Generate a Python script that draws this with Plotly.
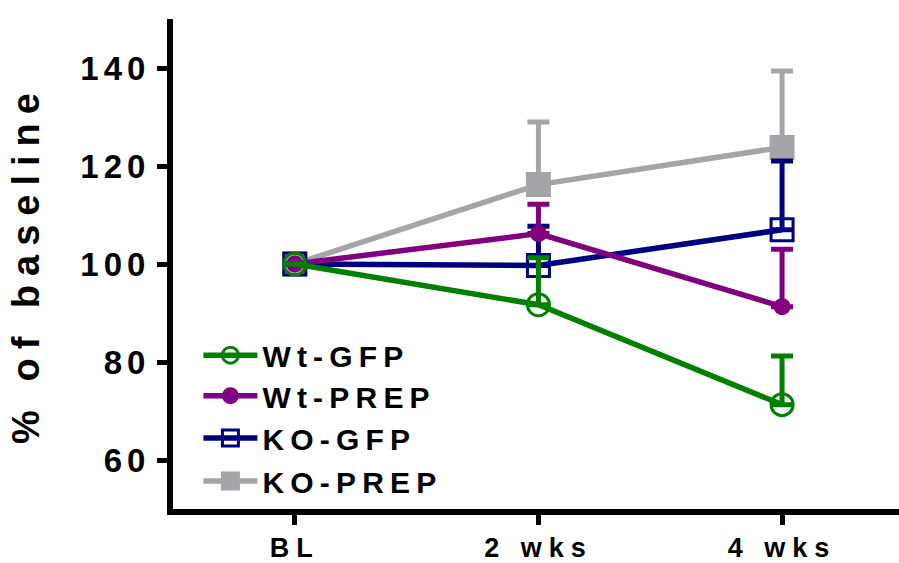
import plotly.graph_objects as go

# Time points and group summaries (% of baseline, mean and upper SEM)
timepoints = ["BL", "2 wks", "4 wks"]

wt_gfp_mean = [100, 91.7, 71.3]
wt_gfp_err = [0, 9.6, 9.9]

wt_prep_mean = [100, 106.2, 91.3]
wt_prep_err = [0, 6.0, 11.7]

ko_gfp_mean = [100, 99.7, 107.0]
ko_gfp_err = [0, 8.0, 14.0]

ko_prep_mean = [100, 116.2, 123.8]
ko_prep_err = [0, 12.8, 15.6]

y_ticks = [60, 80, 100, 120, 140]

FONT = "Liberation Sans"

# (name, mean, err, color, symbol, marker size, legend id, legend y) -- drawn bottom to top
groups = [
    ("KO-PREP", ko_prep_mean, ko_prep_err, "#A5A5A9", "square", 22, "legend4", 0.057),
    ("KO-GFP", ko_gfp_mean, ko_gfp_err, "#000080", "square-open", 22, "legend3", 0.145),
    ("Wt-PREP", wt_prep_mean, wt_prep_err, "#800080", "circle", 14, "legend2", 0.231),
    ("Wt-GFP", wt_gfp_mean, wt_gfp_err, "#008000", "circle-open", 22, "legend", 0.314),
]

fig = go.Figure()
x_pos = list(range(len(timepoints)))
legend_font = dict(family=FONT, size=30, color="black", weight="bold")
legend_layout = {}
for name, mean, err, color, symbol, size, leg, leg_y in groups:
    fig.add_trace(go.Scatter(
        x=x_pos,
        y=mean,
        name=name,
        legend=leg,
        mode="lines+markers",
        line=dict(color=color, width=5.5),
        marker=dict(symbol=symbol, size=size, color=color,
                    line=dict(color=color, width=3)),
        error_y=dict(type="data", symmetric=False, array=err,
                     arrayminus=[0] * len(err), color=color,
                     thickness=5, width=11),
    ))
    legend_layout[leg] = dict(
        x=0.035, y=leg_y, xanchor="left", yanchor="middle",
        font=legend_font, bgcolor="rgba(0,0,0,0)", itemwidth=54,
    )

fig.update_layout(
    width=899,
    height=563,
    margin=dict(l=173, r=0, t=19, b=54),
    plot_bgcolor="white",
    paper_bgcolor="white",
    font=dict(family=FONT, color="black"),
    showlegend=True,
    xaxis=dict(
        range=[-0.5, 2.48],
        tickmode="array",
        tickvals=x_pos,
        ticktext=timepoints,
        showgrid=False,
        zeroline=False,
        showline=True,
        linecolor="black",
        linewidth=6,
        ticks="outside",
        ticklen=10,
        tickwidth=5,
        tickcolor="black",
        tickfont=dict(family=FONT, size=27, color="black", weight="bold"),
    ),
    yaxis=dict(
        range=[50, 150],
        tickmode="array",
        tickvals=y_ticks,
        showgrid=False,
        zeroline=False,
        showline=True,
        linecolor="black",
        linewidth=6,
        ticks="outside",
        ticklen=10,
        tickwidth=5,
        tickcolor="black",
        tickfont=dict(family=FONT, size=33, color="black", weight="bold"),
        title=dict(text="% of baseline", standoff=46,
                   font=dict(family=FONT, size=38, color="black", weight="bold")),
    ),
    **legend_layout,
)

# Wide letter spacing on axis and legend texts; legend boxes left unclipped
spacing_js = """
var css = document.createElement('style');
css.textContent =
  '.xtick text { letter-spacing: 7px; }' +
  '.ytick text { letter-spacing: 5px; }' +
  '.infolayer text.legendtext, .infolayer text.legend2text,' +
  '.infolayer text.legend3text, .infolayer text.legend4text { letter-spacing: 6.2px; }' +
  'text.ytitle { letter-spacing: 9px; }' +
  '.infolayer .scrollbox { clip-path: none !important; }';
document.head.appendChild(css);
"""

fig.write_html("out.html", post_script=spacing_js)
